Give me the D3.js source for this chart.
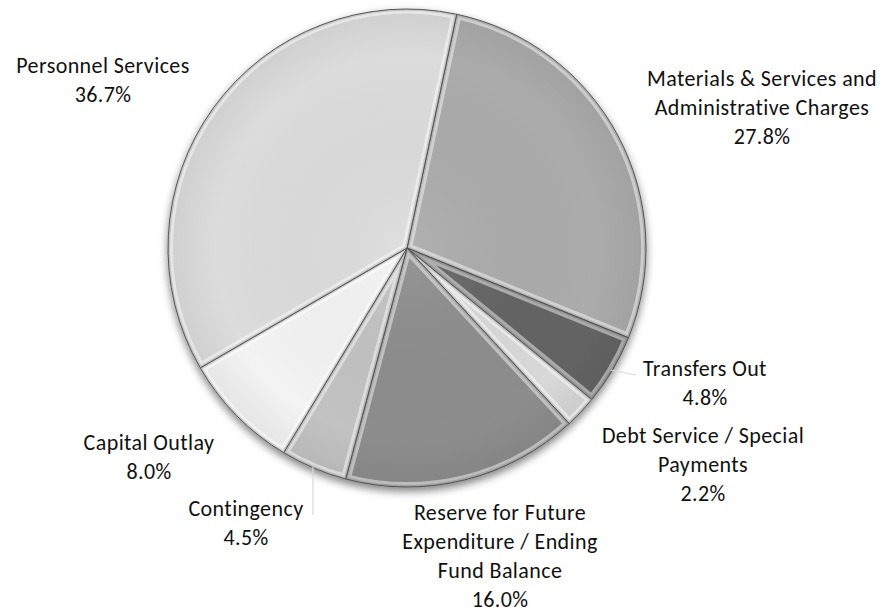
<!DOCTYPE html>
<html>
<head>
<meta charset="utf-8">
<script src="https://cdn.jsdelivr.net/npm/d3@7/dist/d3.min.js"></script>
<style>
  html, body { margin: 0; padding: 0; background: #fff; }
  svg { display: block; }
  text { font-family: Carlito, Calibri, Lato, "Open Sans", sans-serif; fill: #111; }
</style>
</head>
<body>
<svg id="chart" width="890" height="612"></svg>
<script>
// ---- data ----
const categories = [
  "Materials & Services  and Administrative Charges",
  "Transfers Out",
  "Debt Service / Special Payments",
  "Reserve for Future Expenditure / Ending Fund Balance",
  "Contingency",
  "Capital Outlay",
  "Personnel Services"
];
const labelLines = [
  ["Materials & Services  and", "Administrative Charges"],
  ["Transfers Out"],
  ["Debt Service / Special", "Payments"],
  ["Reserve for Future", "Expenditure / Ending", "Fund Balance"],
  ["Contingency"],
  ["Capital Outlay"],
  ["Personnel Services"]
];
const values = [27.8, 4.8, 2.2, 16.0, 4.5, 8.0, 36.7];
const percentLabels = ["27.8%", "4.8%", "2.2%", "16.0%", "4.5%", "8.0%", "36.7%"];

// ---- layout / style ----
const W = 890, H = 612;
const cx = 407, cy = 248, R = 239;
const startDeg = 12;
const colors = ["#ababab", "#646464", "#d8d8d8", "#8d8d8d", "#c2c2c2", "#f3f3f3", "#dcdcdc"];
// label block centres (x, y of first line centre)
const labelPos = [
  [762, 78], [705, 368], [703, 435], [500, 512], [246, 508], [149, 442], [103, 65]
];
const lineH = 29.2;
// leader lines [x1,y1,x2,y2] (for Transfers Out and Contingency)
const leaders = {1: [611, 370, 636, 375], 4: [313, 467, 313, 515]};

const svg = d3.select("#chart");
const defs = svg.append("defs");

const shadow = defs.append("filter").attr("id", "shadow")
  .attr("x", "-20%").attr("y", "-20%").attr("width", "140%").attr("height", "140%");
shadow.append("feGaussianBlur").attr("in", "SourceAlpha").attr("stdDeviation", 4).attr("result", "b");
shadow.append("feOffset").attr("in", "b").attr("dx", 0).attr("dy", 4).attr("result", "o");
shadow.append("feComponentTransfer").attr("in", "o").attr("result", "o2")
  .append("feFuncA").attr("type", "linear").attr("slope", 0.5);
const merge = shadow.append("feMerge");
merge.append("feMergeNode").attr("in", "o2");
merge.append("feMergeNode").attr("in", "SourceGraphic");

const rg = defs.append("radialGradient").attr("id", "shade")
  .attr("gradientUnits", "userSpaceOnUse")
  .attr("cx", 0).attr("cy", 0).attr("r", R);
rg.append("stop").attr("offset", "0%").attr("stop-color", "#fff").attr("stop-opacity", 0.08);
rg.append("stop").attr("offset", "80%").attr("stop-color", "#000").attr("stop-opacity", 0.0);
rg.append("stop").attr("offset", "100%").attr("stop-color", "#000").attr("stop-opacity", 0.06);

const pie = d3.pie().sort(null).value(d => d)
  .startAngle(startDeg * Math.PI / 180)
  .endAngle(startDeg * Math.PI / 180 + 2 * Math.PI);
const arcs = pie(values);
const arc = d3.arc().innerRadius(0).outerRadius(R);

const g = svg.append("g").attr("transform", `translate(${cx},${cy})`);
const pieG = g.append("g").attr("filter", "url(#shadow)");

arcs.forEach((a, i) => {
  const id = "clip" + i;
  defs.append("clipPath").attr("id", id)
    .append("path").attr("d", arc(a));
  const sg = pieG.append("g");
  sg.append("path").attr("d", arc(a)).attr("fill", colors[i]);
  const ig = sg.append("g").attr("clip-path", `url(#${id})`);
  ig.append("path").attr("d", arc(a)).attr("fill", "url(#shade)");
  // bevel: light band inside, dark line at edge
  ig.append("path").attr("d", arc(a)).attr("fill", "none")
    .attr("stroke", "#fff").attr("stroke-opacity", 0.45).attr("stroke-width", 10)
    .attr("stroke-linejoin", "round");
  ig.append("path").attr("d", arc(a)).attr("fill", "none")
    .attr("stroke", "#000").attr("stroke-opacity", 0.15).attr("stroke-width", 4)
    .attr("stroke-linejoin", "round");
  sg.append("path").attr("d", arc(a)).attr("fill", "none")
    .attr("stroke", "#4a4a4a").attr("stroke-width", 0.9).attr("stroke-linejoin", "round");
});

// leader lines
Object.entries(leaders).forEach(([i, l]) => {
  svg.append("line").attr("x1", l[0]).attr("y1", l[1]).attr("x2", l[2]).attr("y2", l[3])
    .attr("stroke", "#d9d9d9").attr("stroke-width", 1.2);
});

// labels
const fontSize = 22;
arcs.forEach((a, i) => {
  const lines = labelLines[i].concat([percentLabels[i]]);
  const t = svg.append("text").attr("text-anchor", "middle")
    .attr("font-size", fontSize + "px").attr("letter-spacing", "0.4px");
  lines.forEach((ln, k) => {
    t.append("tspan").attr("x", labelPos[i][0]).attr("y", labelPos[i][1] + k * lineH)
      .attr("dy", "0.35em").text(ln);
  });
});
</script>
</body>
</html>
